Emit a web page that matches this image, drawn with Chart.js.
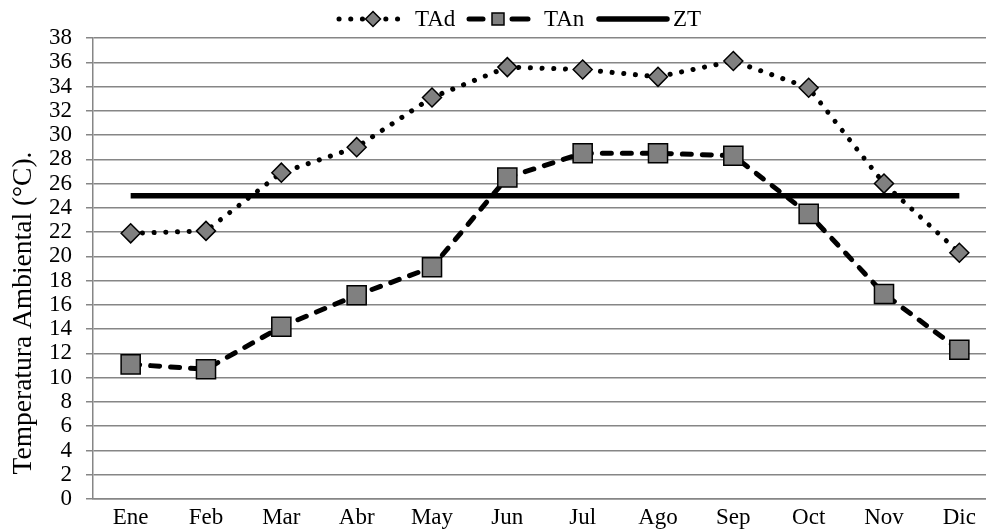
<!DOCTYPE html>
<html>
<head>
<meta charset="utf-8">
<title>Temperatura Ambiental</title>
<script src="https://cdn.jsdelivr.net/npm/chart.js@4.4.1/dist/chart.umd.min.js"></script>
<style>
  html, body { margin: 0; padding: 0; background: #fff; overflow: hidden; }
  #wrap { width: 1000px; height: 531px; position: relative; }
  #chartTemp { display: block; width: 1000px; height: 531px; }
</style>
</head>
<body>
<div id="wrap"><canvas id="chartTemp" width="1000" height="531"></canvas></div>
<script>
// Datos
const meses = ['Ene', 'Feb', 'Mar', 'Abr', 'May', 'Jun', 'Jul', 'Ago', 'Sep', 'Oct', 'Nov', 'Dic'];
const TAd = [21.9, 22.1, 26.9, 29.0, 33.1, 35.6, 35.4, 34.8, 36.1, 33.9, 26.0, 20.3];
const TAn = [11.1, 10.7, 14.2, 16.8, 19.1, 26.5, 28.5, 28.5, 28.3, 23.5, 16.9, 12.3];
const ZT = [25, 25, 25, 25, 25, 25, 25, 25, 25, 25, 25, 25];
const yMin = 0, yMax = 38, yPaso = 2;
const tituloY = 'Temperatura Ambiental (°C).';

const gris = '#868686';
const relleno = '#808080';
const fuente = '"Liberation Serif", "Times New Roman", serif';
Chart.defaults.font.family = fuente;
Chart.defaults.color = '#000';

// Leyenda dibujada a mano: muestra de línea + marcador, como en Excel
const leyenda = {
  id: 'leyenda',
  afterDraw(chart) {
    const ctx = chart.ctx;
    const y = 19;
    const items = [
      { x0: 337, x1: 400, tx: 415, mx: 373 },
      { x0: 469, x1: 528, tx: 544, mx: 498 },
      { x0: 599, x1: 667, tx: 673, mx: null }
    ];
    ctx.save();
    chart.data.datasets.forEach((ds, i) => {
      const it = items[i];
      ctx.strokeStyle = '#000';
      ctx.lineWidth = ds.borderWidth;
      ctx.lineCap = 'round';
      if (i === 0) {
        ctx.setLineDash([0.1, 11.6]);
        ctx.beginPath(); ctx.moveTo(it.x0 + 2, y); ctx.lineTo(it.x1, y); ctx.stroke();
      } else if (i === 1) {
        ctx.setLineDash([]);
        ctx.beginPath(); ctx.moveTo(it.x0, y); ctx.lineTo(it.x0 + 14, y); ctx.stroke();
        ctx.beginPath(); ctx.moveTo(it.x1 - 16, y); ctx.lineTo(it.x1, y); ctx.stroke();
      } else {
        ctx.setLineDash([]);
        ctx.beginPath(); ctx.moveTo(it.x0, y); ctx.lineTo(it.x1, y); ctx.stroke();
      }
      ctx.setLineDash([]);
      if (it.mx !== null) {
        ctx.fillStyle = relleno;
        ctx.lineWidth = 1.5;
        ctx.beginPath();
        if (i === 0) {
          const r = 7.5;
          ctx.moveTo(it.mx, y - r); ctx.lineTo(it.mx + r, y);
          ctx.lineTo(it.mx, y + r); ctx.lineTo(it.mx - r, y); ctx.closePath();
        } else {
          const h = 6;
          ctx.rect(it.mx - h, y - h, 2 * h, 2 * h);
        }
        ctx.fill(); ctx.stroke();
      }
      ctx.fillStyle = '#000';
      ctx.font = '23px ' + fuente;
      ctx.textBaseline = 'middle';
      ctx.textAlign = 'left';
      ctx.fillText(ds.label, it.tx, y + 1);
    });
    ctx.restore();
  }
};

// Título del eje Y (en el original está algo desplazado hacia abajo)
const tituloEje = {
  id: 'tituloEje',
  afterDraw(chart) {
    const ctx = chart.ctx;
    ctx.save();
    ctx.translate(31, 313);
    ctx.rotate(-Math.PI / 2);
    ctx.font = '27.5px ' + fuente;
    ctx.fillStyle = '#000';
    ctx.textAlign = 'center';
    ctx.textBaseline = 'alphabetic';
    ctx.fillText(tituloY, 0, 0);
    ctx.restore();
  }
};

const tempChart = new Chart(document.getElementById('chartTemp').getContext('2d'), {
  type: 'line',
  data: {
    labels: meses,
    datasets: [{
      label: 'TAd',
      data: TAd,
      borderColor: '#000',
      borderWidth: 5,
      borderDash: [0.1, 11.6],
      borderCapStyle: 'round',
      pointStyle: 'rectRot',
      pointRadius: 9.5,
      pointBackgroundColor: relleno,
      pointBorderColor: '#000',
      pointBorderWidth: 1.5,
      tension: 0
    }, {
      label: 'TAn',
      data: TAn,
      borderColor: '#000',
      borderWidth: 5,
      borderDash: [9, 11],
      borderCapStyle: 'round',
      pointStyle: 'rect',
      pointRadius: 13.5,
      pointBackgroundColor: relleno,
      pointBorderColor: '#000',
      pointBorderWidth: 1.5,
      tension: 0
    }, {
      label: 'ZT',
      data: ZT,
      borderColor: '#000',
      borderWidth: 5.5,
      pointRadius: 0,
      tension: 0
    }]
  },
  options: {
    responsive: false,
    animation: false,
    layout: { autoPadding: false, padding: { top: 38, right: 3, bottom: 0, left: 0 } },
    plugins: {
      legend: { display: false },
      tooltip: { enabled: false }
    },
    scales: {
      x: {
        offset: true,
        grid: { display: false, drawTicks: false },
        border: { display: true, color: gris, width: 1.5 },
        ticks: { font: { size: 23 }, padding: 5, maxRotation: 0, autoSkip: false },
        afterFit(scale) {
          scale.height = 32;
          scale.paddingLeft = 0;
          scale.paddingRight = 0;
        }
      },
      y: {
        min: yMin,
        max: yMax,
        ticks: { stepSize: yPaso, font: { size: 23 }, padding: 14, autoSkip: false },
        grid: { color: gris, lineWidth: 1.5, tickLength: 7, drawTicks: true },
        border: { display: true, color: gris, width: 1.5 },
        afterFit(scale) { scale.width = 93; }
      }
    }
  },
  plugins: [leyenda, tituloEje]
});
</script>
</body>
</html>
